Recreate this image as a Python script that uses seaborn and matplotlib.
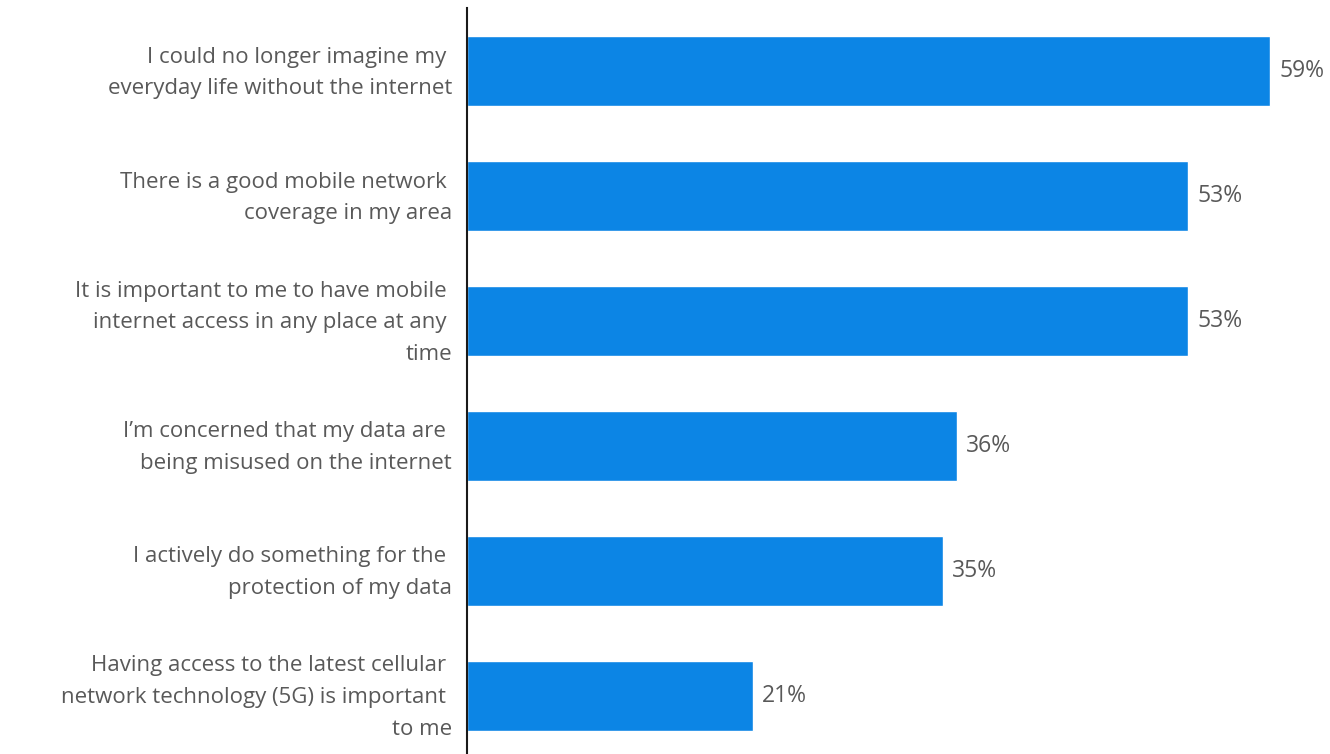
import matplotlib
matplotlib.use("Agg")
import matplotlib.pyplot as plt
import matplotlib.transforms as mtransforms
import seaborn as sns
import pandas as pd

categories = [
    "I could no longer imagine my \neveryday life without the internet",
    "There is a good mobile network \ncoverage in my area",
    "It is important to me to have mobile \ninternet access in any place at any \ntime",
    "I\u2019m concerned that my data are \nbeing misused on the internet",
    "I actively do something for the \nprotection of my data",
    "Having access to the latest cellular \nnetwork technology (5G) is important \nto me",
]
values = [59, 53, 53, 36, 35, 21]
value_labels = ["59%", "53%", "53%", "36%", "35%", "21%"]

df = pd.DataFrame({"statement": categories, "share": values})

sns.set_theme(style="white")
plt.rcParams["font.family"] = ["Open Sans", "DejaVu Sans"]

W, H = 1330, 754
fig = plt.figure(figsize=(W / 100, H / 100), dpi=100)
left = 467 / W
right = (467 + 60 * 13.61) / W
ax = fig.add_axes([left, 0, right - left, 746 / H])

bar_color = "#0c85e5"
text_color = "#595959"

sns.barplot(data=df, x="share", y="statement", orient="h", color=bar_color,
            width=0.56, saturation=1, ax=ax)

ax.set_xlim(0, 60)
ax.set_ylim(5.468, -0.504)

# value labels at the end of each bar
for i, (v, lab) in enumerate(zip(values, value_labels)):
    ax.annotate(lab, xy=(v, i), xytext=(6.5, 0), textcoords="offset points",
                ha="left", va="center", fontsize=16.5, color=text_color)

# category labels, right-aligned next to the axis line
ax.set_yticks(range(len(categories)))
ax.set_yticklabels([])
label_trans = ax.get_yaxis_transform() + mtransforms.ScaledTranslation(
    -15 / 100, -2 / 100, fig.dpi_scale_trans)
for i, cat in enumerate(categories):
    ax.text(0, i, cat, transform=label_trans, ha="right", va="center",
            fontsize=16, color=text_color, linespacing=1.66)

ax.set_xlabel("")
ax.set_ylabel("")
ax.set_xticks([])
ax.tick_params(axis="y", length=0)

for side in ["top", "right", "bottom"]:
    ax.spines[side].set_visible(False)
ax.spines["left"].set_color("#1a1a1a")
ax.spines["left"].set_linewidth(1.5)

fig.savefig("out.png", dpi=100, facecolor="white")
